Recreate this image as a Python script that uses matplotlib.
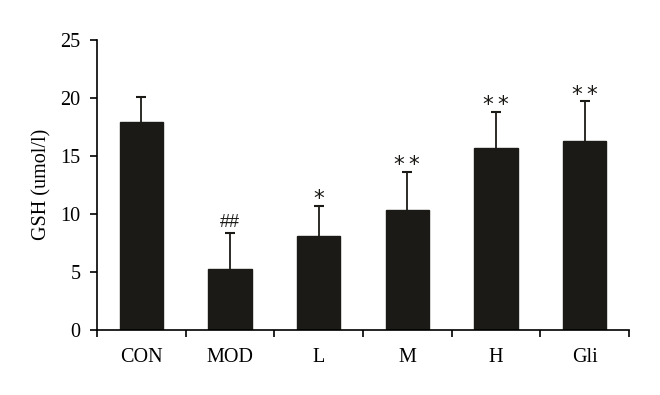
import numpy as np
import matplotlib.pyplot as plt

plt.rcParams['font.family'] = ['Liberation Serif', 'DejaVu Serif']

groups = ['CON', 'MOD', 'L', 'M', 'H', 'Gli']
gsh = [17.9, 5.25, 8.1, 10.3, 15.7, 16.3]
sd = [2.2, 3.1, 2.6, 3.3, 3.1, 3.4]
marks = ['', '##', '*', '**', '**', '**']

fig = plt.figure(figsize=(6.6, 3.95), dpi=100)
ax = fig.add_axes([0.147, 0.165, 0.806, 0.734])

x = np.arange(len(groups))
tops = np.array(gsh) + np.array(sd)
ax.bar(x, gsh, width=0.49, color='#1c1a17', edgecolor='#1c1a17')
# upper half error bars only
ax.vlines(x, gsh, tops, color='#1c1a17', linewidth=1.3)
ax.plot(x, tops, linestyle='none', marker='_', markersize=7,
        markeredgewidth=1.5, color='#1c1a17')

for xi, t, m in zip(x, tops, marks):
    if not m:
        continue
    if m.startswith('#'):
        ax.annotate(m, (xi, t), xytext=(0, 4), textcoords='offset points',
                    ha='center', va='baseline', fontsize=13,
                    family='Liberation Sans', color='#1c1a17')
    else:
        ax.annotate('\u2009'.join(m), (xi, t), xytext=(0, 0.5), textcoords='offset points',
                    ha='center', va='baseline', fontsize=15.5,
                    family='DejaVu Sans', color='#1c1a17')

ax.set_xlim(-0.5, len(groups) - 0.5)
ax.set_ylim(0, 25)
ax.set_yticks([0, 5, 10, 15, 20, 25])
ax.set_xticks(x)
ax.set_xticklabels(groups)
ax.set_xticks(np.arange(-0.5, len(groups)), minor=True)
ax.tick_params(axis='x', which='major', length=0, pad=13, labelsize=14.5)
ax.tick_params(axis='x', which='minor', length=5, width=1.2, direction='out')
ax.tick_params(axis='y', length=5, width=1.2, labelsize=14.5, pad=7)
ax.set_ylabel('GSH (umol/l)', fontsize=14.5, labelpad=6)

for s in ['top', 'right']:
    ax.spines[s].set_visible(False)
for s in ['left', 'bottom']:
    ax.spines[s].set_linewidth(1.2)

fig.savefig('out.png', dpi=100)
